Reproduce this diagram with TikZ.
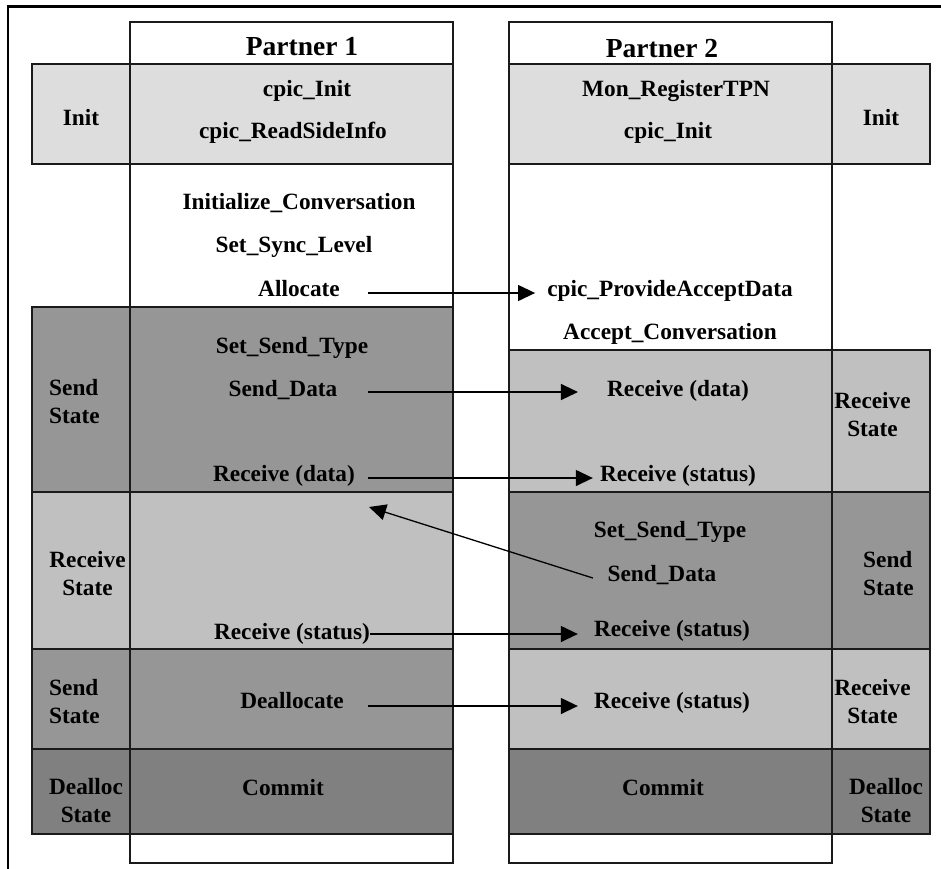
\documentclass[tikz,border=0pt]{standalone}
\usepackage{fontspec}
\setmainfont{Liberation Serif}
\usetikzlibrary{arrows.meta}
\definecolor{initgray}{HTML}{DDDDDD}
\definecolor{sendgray}{HTML}{969696}
\definecolor{recvgray}{HTML}{C0C0C0}
\definecolor{deallgray}{HTML}{808080}
\definecolor{rule}{HTML}{1A1A1A}

\begin{document}
\begin{tikzpicture}[x=1pt,y=-1pt,
  box/.style={draw=rule,line width=1.2pt},
  lbl/.style={font=\fontsize{23.3}{28}\selectfont\bfseries,inner sep=0pt,anchor=base},
  head/.style={lbl,font=\fontsize{27.5}{32}\selectfont\bfseries},
  statelbl/.style={font=\fontsize{23.3}{28}\selectfont\bfseries,inner sep=0pt,align=center},
  stateleft/.style={statelbl,align=left,anchor=west},
  msg/.style={line width=1.3pt,-{Triangle[length=17pt,width=16pt]}}]

\useasboundingbox (0,0) rectangle (941,868);

% outer frame, running off the page on the right and at the bottom
\begin{scope}
  \clip (0,0) rectangle (941,868);
  \draw[line width=2.5pt] (8,6.5) rectangle (990,900);
\end{scope}

% the two partner columns
\draw[box,fill=white] (130,22) rectangle (453,863);
\draw[box,fill=white] (509,22) rectangle (832,863);

% state bands of partner 1: state cell on the left, calls on the right
\foreach \a/\b/\c in {64/164/initgray,307/492/sendgray,492/649/recvgray,
                      649/749/sendgray,749/834/deallgray}{
  \draw[box,fill=\c] (32,\a) rectangle (130,\b);
  \draw[box,fill=\c] (130,\a) rectangle (453,\b);
}
% state bands of partner 2: calls on the left, state cell on the right
\foreach \a/\b/\c in {64/164/initgray,350/492/recvgray,492/649/sendgray,
                      649/749/recvgray,749/834/deallgray}{
  \draw[box,fill=\c] (509,\a) rectangle (832,\b);
  \draw[box,fill=\c] (832,\a) rectangle (930,\b);
}

% headers
\node[head] (p1) at (302,55) {Partner 1};
\node[head] (p2) at (662,57) {Partner 2};

% partner 1 calls
\node[lbl] (ciL)  at (307,96)  {cpic\_Init};
\node[lbl] (rsi)  at (293,138) {cpic\_ReadSideInfo};
\node[lbl] (ic)   at (299,209) {Initialize\_Conversation};
\node[lbl] (ssl)  at (294,252) {Set\_Sync\_Level};
\node[lbl] (alloc) at (299,296) {Allocate};
\node[lbl] (sstL) at (292,353) {Set\_Send\_Type};
\node[lbl] (sdL)  at (283,396) {Send\_Data};
\node[lbl] (rdL)  at (284,481) {Receive (data)};
\node[lbl] (rsL)  at (292,639) {Receive (status)};
\node[lbl] (deal) at (292,708) {Deallocate};
\node[lbl] (comL) at (283,795) {Commit};

% partner 2 calls
\node[lbl] (mon)  at (676,96)  {Mon\_RegisterTPN};
\node[lbl] (ciR)  at (668,138) {cpic\_Init};
\node[lbl] (pad)  at (670,296) {cpic\_ProvideAcceptData};
\node[lbl] (acc)  at (670,339) {Accept\_Conversation};
\node[lbl] (rdR)  at (678,396) {Receive (data)};
\node[lbl] (rsR1) at (678,481) {Receive (status)};
\node[lbl] (sstR) at (670,537) {Set\_Send\_Type};
\node[lbl] (sdR)  at (662,581) {Send\_Data};
\node[lbl] (rsR2) at (672,636) {Receive (status)};
\node[lbl] (rsR3) at (672,708) {Receive (status)};
\node[lbl] (comR) at (663,795) {Commit};

% state names
\node[lbl] (initL) at (81,125)  {Init};
\node[lbl] (initR) at (881,125) {Init};
\node[stateleft] (sendL1) at (49,402) {Send\\State};
\node[statelbl] (recvL)  at (87.5,573.5) {Receive\\State};
\node[stateleft] (sendL2) at (49,702) {Send\\State};
\node[statelbl] (dealL)  at (86,801) {Dealloc\\State};
\node[statelbl] (recvR1) at (872.5,415) {Receive\\State};
\node[stateleft] (sendR) at (863,573.5) {Send\\State};
\node[statelbl] (recvR2) at (872.5,702) {Receive\\State};
\node[statelbl] (dealR)  at (886,801) {Dealloc\\State};

% message flows between the partners
\coordinate (backtip) at (369,507);
\draw[msg] ([shift={(28,-3)}]alloc.base east) -- ([shift={(-12,-3)}]pad.base west);
\draw[msg] ([shift={(30.6,-4)}]sdL.base east) -- ([shift={(-29,-4)}]rdR.base west);
\draw[msg] ([shift={(13,-3)}]rdL.base east) -- ([shift={(-7,-3)}]rsR1.base west);
\draw[msg] ([shift={(0,-5)}]rsL.base east) -- ([shift={(-16,-2)}]rsR2.base west);
\draw[msg] ([shift={(24,-2)}]deal.base east) -- ([shift={(-16,-2)}]rsR3.base west);
\draw[msg] ([shift={(-14.6,-3)}]sdR.base west) -- (backtip);
\end{tikzpicture}
\end{document}
